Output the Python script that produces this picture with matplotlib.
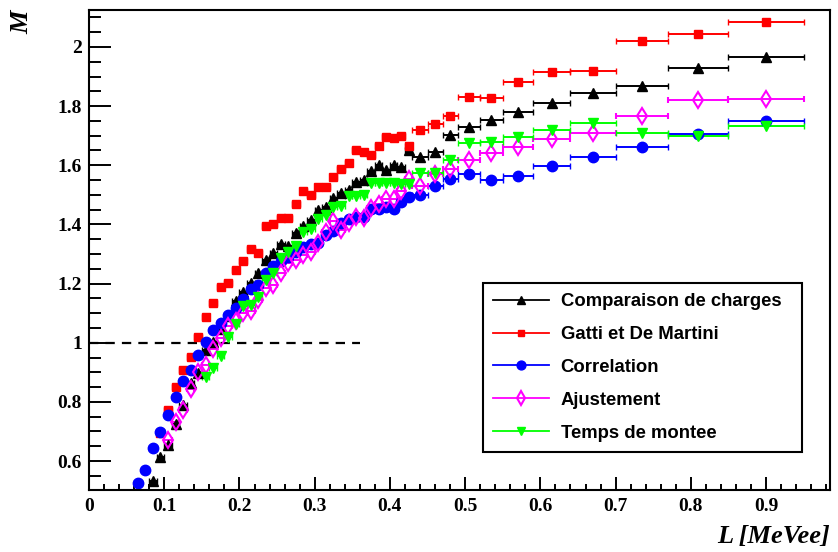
import matplotlib
matplotlib.use("Agg")
import matplotlib.pyplot as plt
from matplotlib.lines import Line2D
from matplotlib.ticker import MultipleLocator, FuncFormatter

# ---------------- data ----------------
# fine L grid (MeVee), half-width of each fine bin
L_fine = [0.065, 0.075, 0.085, 0.095, 0.105, 0.115, 0.125, 0.135, 0.145, 0.155,
          0.165, 0.175, 0.185, 0.195, 0.205, 0.215, 0.225, 0.235, 0.245, 0.255,
          0.265, 0.275, 0.285, 0.295, 0.305, 0.315, 0.325, 0.335, 0.345, 0.355,
          0.365, 0.375, 0.385, 0.395, 0.405, 0.415, 0.425]
dL_fine = 0.005
# wide bins at high L
L_bins = [0.44, 0.46, 0.48, 0.505, 0.535, 0.57, 0.615, 0.67, 0.735, 0.81, 0.90]
dL_bins = [0.01, 0.01, 0.01, 0.015, 0.015, 0.02, 0.025, 0.03, 0.035, 0.04, 0.05]

N = None
M_charges_fine = [N, N, 0.532, 0.614, 0.655, 0.726, 0.791, 0.864, 0.898, 0.976,
                  1.004, 1.045, 1.089, 1.140, 1.173, 1.202, 1.236, 1.278, 1.303, 1.334,
                  1.328, 1.372, 1.395, 1.416, 1.448, 1.460, 1.490, 1.505, 1.517, 1.545,
                  1.550, 1.579, 1.600, 1.584, 1.601, 1.593, 1.650]
M_charges_bins = [1.629, 1.646, 1.703, 1.731, 1.753, 1.781, 1.810, 1.846, 1.868, 1.930, 1.967]

M_gatti_fine = [N, N, N, 0.695, 0.771, 0.851, 0.909, 0.952, 1.018, 1.087,
                1.133, 1.188, 1.202, 1.246, 1.277, 1.318, 1.305, 1.396, 1.401, 1.421,
                1.421, 1.470, 1.514, 1.500, 1.528, 1.528, 1.559, 1.587, 1.606, 1.653,
                1.645, 1.635, 1.665, 1.696, 1.692, 1.699, 1.665]
M_gatti_bins = [1.720, 1.740, 1.768, 1.832, 1.827, 1.881, 1.917, 1.920, 2.020, 2.043, 2.083]

M_corr_fine = [0.524, 0.569, 0.644, 0.698, 0.757, 0.815, 0.869, 0.909, 0.959, 1.004,
               1.043, 1.067, 1.095, 1.117, 1.148, 1.181, 1.196, 1.235, 1.260, 1.275,
               1.290, 1.306, 1.325, 1.333, 1.337, 1.365, 1.378, 1.404, 1.418, 1.425,
               1.425, 1.452, 1.452, 1.458, 1.452, 1.477, 1.492]
M_corr_bins = [1.500, 1.530, 1.553, 1.570, 1.551, 1.564, 1.598, 1.627, 1.663, 1.706, 1.751]

M_ajust_fine = [N, N, N, N, 0.670, 0.731, 0.774, 0.842, 0.900, 0.926,
                0.979, 1.015, 1.055, 1.075, 1.100, 1.106, 1.145, 1.185, 1.196, 1.235,
                1.270, 1.280, 1.298, 1.308, 1.337, 1.374, 1.410, 1.382, 1.404, 1.426,
                1.421, 1.456, 1.470, 1.486, 1.486, 1.513, 1.552]
M_ajust_bins = [1.530, 1.570, 1.587, 1.618, 1.643, 1.663, 1.688, 1.708, 1.765, 1.820, 1.825]

M_temps_fine = [N, N, N, N, N, N, N, N, N, 0.884,
                0.913, 0.955, 1.021, 1.062, 1.123, 1.128, 1.153, 1.213, 1.236, 1.287,
                1.308, 1.327, 1.375, 1.383, 1.417, 1.431, 1.458, 1.463, 1.495, 1.497,
                1.498, 1.540, 1.541, 1.541, 1.541, 1.536, 1.536]
M_temps_bins = [1.573, 1.575, 1.618, 1.675, 1.677, 1.695, 1.720, 1.744, 1.710, 1.699, 1.733]

labels = ["Comparaison de charges", "Gatti et De Martini", "Correlation",
          "Ajustement", "Temps de montee"]

ref_x = [0.0, 0.36]
ref_y = [1.0, 1.0]

# ---------------- style ----------------
styles = [
    dict(color="black", marker="^", ms=7.5, mfc="black", mew=1.0),
    dict(color="red", marker="s", ms=5.4, mfc="red", mew=1.0),
    dict(color="blue", marker="o", ms=7.5, mfc="blue", mew=1.0),
    dict(color="magenta", marker="d", ms=8.3, mfc="none", mew=1.5),
    dict(color="#00ff00", marker="v", ms=7.5, mfc="#00ff00", mew=1.0),
]
series = [(M_charges_fine, M_charges_bins), (M_gatti_fine, M_gatti_bins),
          (M_corr_fine, M_corr_bins), (M_ajust_fine, M_ajust_bins),
          (M_temps_fine, M_temps_bins)]

fig = plt.figure(figsize=(8.38, 5.52), dpi=100)
ax = fig.add_axes([89 / 838, 62 / 552, 741 / 838, 480 / 552])

for (fine, bins), st in zip(series, styles):
    xs, ys, xe = [], [], []
    for L, M in zip(L_fine, fine):
        if M is not None:
            xs.append(L); ys.append(M); xe.append(dL_fine)
    xs += L_bins; ys += bins; xe += dL_bins
    ax.errorbar(xs, ys, xerr=xe, fmt=st["marker"], color=st["color"],
                ms=st["ms"], mfc=st["mfc"], mec=st["color"], mew=st["mew"],
                elinewidth=1.4, capsize=2.5, capthick=1.4, linestyle="none")

ax.plot(ref_x, ref_y, color="black", lw=1.6, dashes=(4.2, 3.2))

ax.set_xlim(0, 0.985)
ax.set_ylim(0.502, 2.125)

ax.xaxis.set_major_locator(MultipleLocator(0.1))
ax.xaxis.set_minor_locator(MultipleLocator(0.02))
ax.yaxis.set_major_locator(MultipleLocator(0.2))
ax.yaxis.set_minor_locator(MultipleLocator(0.05))
ax.xaxis.set_major_formatter(FuncFormatter(lambda v, p: "%g" % round(v, 3)))
ax.yaxis.set_major_formatter(FuncFormatter(lambda v, p: "%g" % round(v, 3)))

ax.tick_params(axis="x", which="major", direction="in", length=9.5, width=1.4, pad=6,
               top=False)
ax.tick_params(axis="x", which="minor", direction="in", length=4.5, width=1.4, top=False)
ax.tick_params(axis="y", which="major", direction="in", length=15.5, width=1.4, pad=5,
               right=False)
ax.tick_params(axis="y", which="minor", direction="in", length=8.3, width=1.4, right=False)
for lab in ax.get_xticklabels() + ax.get_yticklabels():
    lab.set_fontfamily("Liberation Serif")
    lab.set_fontweight("bold")
    lab.set_fontsize(14)
for sp in ax.spines.values():
    sp.set_linewidth(1.5)

fig.text(22 / 838, 1 - 22 / 552, "M", rotation=90, ha="center", va="center",
         family="Liberation Serif", weight="bold", style="italic", fontsize=19)
fig.text(830 / 838, 1 - 537 / 552, "L [MeVee]", ha="right", va="center",
         family="Liberation Serif", weight="bold", style="italic", fontsize=19)

handles = [Line2D([0], [0], color=st["color"], lw=1.3, marker=st["marker"],
                  ms=st["ms"] * 0.85, mfc=st["mfc"], mec=st["color"], mew=st["mew"])
           for st in styles]
x0 = (483 - 89) / 741
w = (802 - 483) / 741
y1 = (490 - 283) / 480
h = (448 - 283) / 480
leg = ax.legend(handles, labels, loc="upper left", mode="expand",
                bbox_to_anchor=(x0, y1 - h, w, h),
                frameon=True, fancybox=False, edgecolor="black", framealpha=1,
                prop=dict(family="Liberation Sans", weight="bold", size=13.3),
                handlelength=3.0, handletextpad=0.65, labelspacing=0.86,
                borderpad=0.55, borderaxespad=0)
leg.get_frame().set_linewidth(1.5)

fig.savefig("out.png", dpi=100)
